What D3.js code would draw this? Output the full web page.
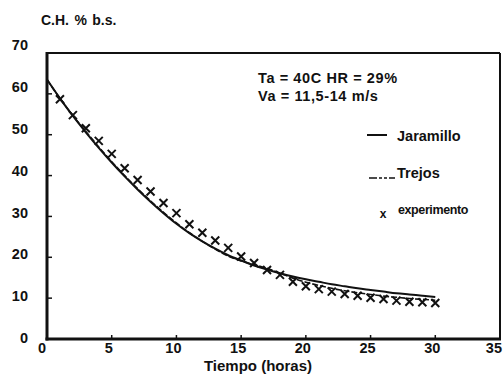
<!DOCTYPE html>
<html>
<head>
<meta charset="utf-8">
<script src="https://cdn.jsdelivr.net/npm/d3@7"></script>
<style>
  html, body { margin: 0; padding: 0; background: #fff; }
  svg { display: block; }
  text { font-family: "Liberation Sans", Arial, sans-serif; fill: #111; }
</style>
</head>
<body>
<svg id="chart" width="503" height="375"></svg>
<script>
// ---- data ----
const tiempo = d3.range(0, 31); // hours 0..30 for model curves
const jaramillo = [63.5, 58.9, 54.6, 50.6, 46.8, 43.2, 39.8, 36.6, 33.6, 30.8,
                   28.2, 25.9, 23.9, 22.1, 20.5, 19.2, 18.0, 17.0, 16.1, 15.3,
                   14.6, 14.0, 13.4, 12.9, 12.4, 12.0, 11.6, 11.2, 10.9, 10.6, 10.3];
const trejos    = [63.5, 58.9, 54.7, 50.8, 47.0, 43.4, 40.0, 36.8, 33.8, 31.0,
                   28.4, 26.0, 23.9, 22.0, 20.3, 19.1, 18.2, 17.3, 16.1, 14.9,
                   13.9, 13.1, 12.4, 11.8, 11.3, 10.9, 10.5, 10.2, 9.9, 9.7, 9.5];
const tExp = d3.range(1, 31);
const experimento = [58.7, 54.8, 51.6, 48.5, 45.3, 41.8, 38.9, 36.1, 33.3, 30.8,
                     28.1, 26.0, 24.1, 22.3, 20.2, 18.6, 16.9, 15.7, 14.0, 12.9,
                     12.2, 11.6, 11.0, 10.6, 10.1, 9.8, 9.4, 9.1, 9.0, 8.8];
const xTicks = [0, 5, 10, 15, 20, 25, 30, 35];
const yTicks = [0, 10, 20, 30, 40, 50, 60, 70];

const svg = d3.select("#chart");
const x = d3.scaleLinear().domain([0, 35]).range([47, 500]);
const y = d3.scaleLinear().domain([0, 70]).range([339, 53]);
const yLab = d3.scaleLinear().domain([0, 70]).range([338, 45]);

// frame
svg.append("line").attr("x1", x(0)).attr("x2", x(35)).attr("y1", y(70)).attr("y2", y(70))
  .attr("stroke", "#111").attr("stroke-width", 2);
svg.append("line").attr("x1", x(35)).attr("x2", x(35)).attr("y1", y(70)).attr("y2", y(0))
  .attr("stroke", "#111").attr("stroke-width", 2);
svg.append("line").attr("x1", x(0)).attr("x2", x(0)).attr("y1", y(70) - 1).attr("y2", y(0) + 1.5)
  .attr("stroke", "#111").attr("stroke-width", 3);
svg.append("line").attr("x1", x(0) - 1.5).attr("x2", x(35) + 1).attr("y1", y(0)).attr("y2", y(0))
  .attr("stroke", "#111").attr("stroke-width", 3);

// ticks
svg.selectAll(".yt").data(yTicks.filter(d => d > 0 && d < 70)).join("line")
  .attr("x1", x(0)).attr("x2", x(0) + 5).attr("y1", d => y(d)).attr("y2", d => y(d))
  .attr("stroke", "#111").attr("stroke-width", 1.5);
svg.selectAll(".xt").data(xTicks.filter(d => d > 0 && d < 35)).join("line")
  .attr("x1", d => x(d)).attr("x2", d => x(d)).attr("y1", y(0)).attr("y2", y(0) - 4)
  .attr("stroke", "#111").attr("stroke-width", 1.5);

// tick labels
svg.selectAll(".yl").data(yTicks).join("text")
  .attr("x", 28).attr("y", d => yLab(d)).attr("dy", "0.35em")
  .attr("text-anchor", "end").attr("font-size", 14.5).attr("font-weight", "bold")
  .text(d => d);
const nX = xTicks.length;
svg.selectAll(".xl").data(xTicks).join("text")
  .attr("x", (d, i) => i === 0 ? x(d) - 5 : (i === nX - 1 ? 502 : x(d) - 3))
  .attr("y", 348).attr("dy", "0.35em")
  .attr("text-anchor", (d, i) => i === nX - 1 ? "end" : "middle")
  .attr("font-size", 14.5).attr("font-weight", "bold")
  .text(d => d);

// axis titles
svg.append("text").attr("x", 41).attr("y", 20).attr("dy", "0.35em")
  .attr("font-size", 14).attr("font-weight", "bold").attr("word-spacing", 1.5).text("C.H. % b.s.");
svg.append("text").attr("x", 258).attr("y", 366).attr("dy", "0.35em")
  .attr("text-anchor", "middle").attr("font-size", 15).attr("font-weight", "bold").text("Tiempo (horas)");

// curves
const line = d3.line().x(d => x(d[0])).y(d => y(d[1])).curve(d3.curveMonotoneX);
svg.append("path").datum(tiempo.map((t, i) => [t, trejos[i]]))
  .attr("d", line).attr("fill", "none").attr("stroke", "#111").attr("stroke-width", 1.6)
  .attr("stroke-dasharray", "6,2");
svg.append("path").datum(tiempo.map((t, i) => [t, jaramillo[i]]))
  .attr("d", line).attr("fill", "none").attr("stroke", "#111").attr("stroke-width", 2);

// experimental markers
const s = 4;
svg.selectAll(".mk").data(tExp.map((t, i) => [t, experimento[i]])).join("path")
  .attr("d", d => {
    const cx = x(d[0]), cy = y(d[1]);
    return `M${cx - s},${cy - s}L${cx + s},${cy + s}M${cx + s},${cy - s}L${cx - s},${cy + s}`;
  })
  .attr("stroke", "#111").attr("stroke-width", 2).attr("fill", "none");

// annotation
svg.append("text").attr("x", 258).attr("y", 78).attr("dy", "0.35em")
  .attr("font-size", 14.5).attr("font-weight", "bold").attr("letter-spacing", 0.6).text("Ta = 40C HR = 29%");
svg.append("text").attr("x", 258).attr("y", 96).attr("dy", "0.35em")
  .attr("font-size", 14.5).attr("font-weight", "bold").attr("letter-spacing", 0.6).text("Va = 11,5-14 m/s");

// legend
svg.append("line").attr("x1", 367).attr("x2", 387).attr("y1", 135).attr("y2", 135)
  .attr("stroke", "#111").attr("stroke-width", 2);
svg.append("text").attr("x", 397).attr("y", 136).attr("dy", "0.35em")
  .attr("font-size", 14.5).attr("font-weight", "bold").text("Jaramillo");
svg.append("line").attr("x1", 369).attr("x2", 395).attr("y1", 178).attr("y2", 178)
  .attr("stroke", "#111").attr("stroke-width", 1.6).attr("stroke-dasharray", "8,2,3,2,3,2");
svg.append("text").attr("x", 397).attr("y", 173).attr("dy", "0.35em")
  .attr("font-size", 14.5).attr("font-weight", "bold").text("Trejos");
svg.append("text").attr("x", 383).attr("y", 214).attr("dy", "0.35em").attr("text-anchor", "middle")
  .attr("font-size", 12).attr("font-weight", "bold").text("x");
svg.append("text").attr("x", 398).attr("y", 210).attr("dy", "0.35em")
  .attr("font-size", 12.5).attr("font-weight", "bold").attr("letter-spacing", -0.4).text("experimento");
</script>
</body>
</html>
